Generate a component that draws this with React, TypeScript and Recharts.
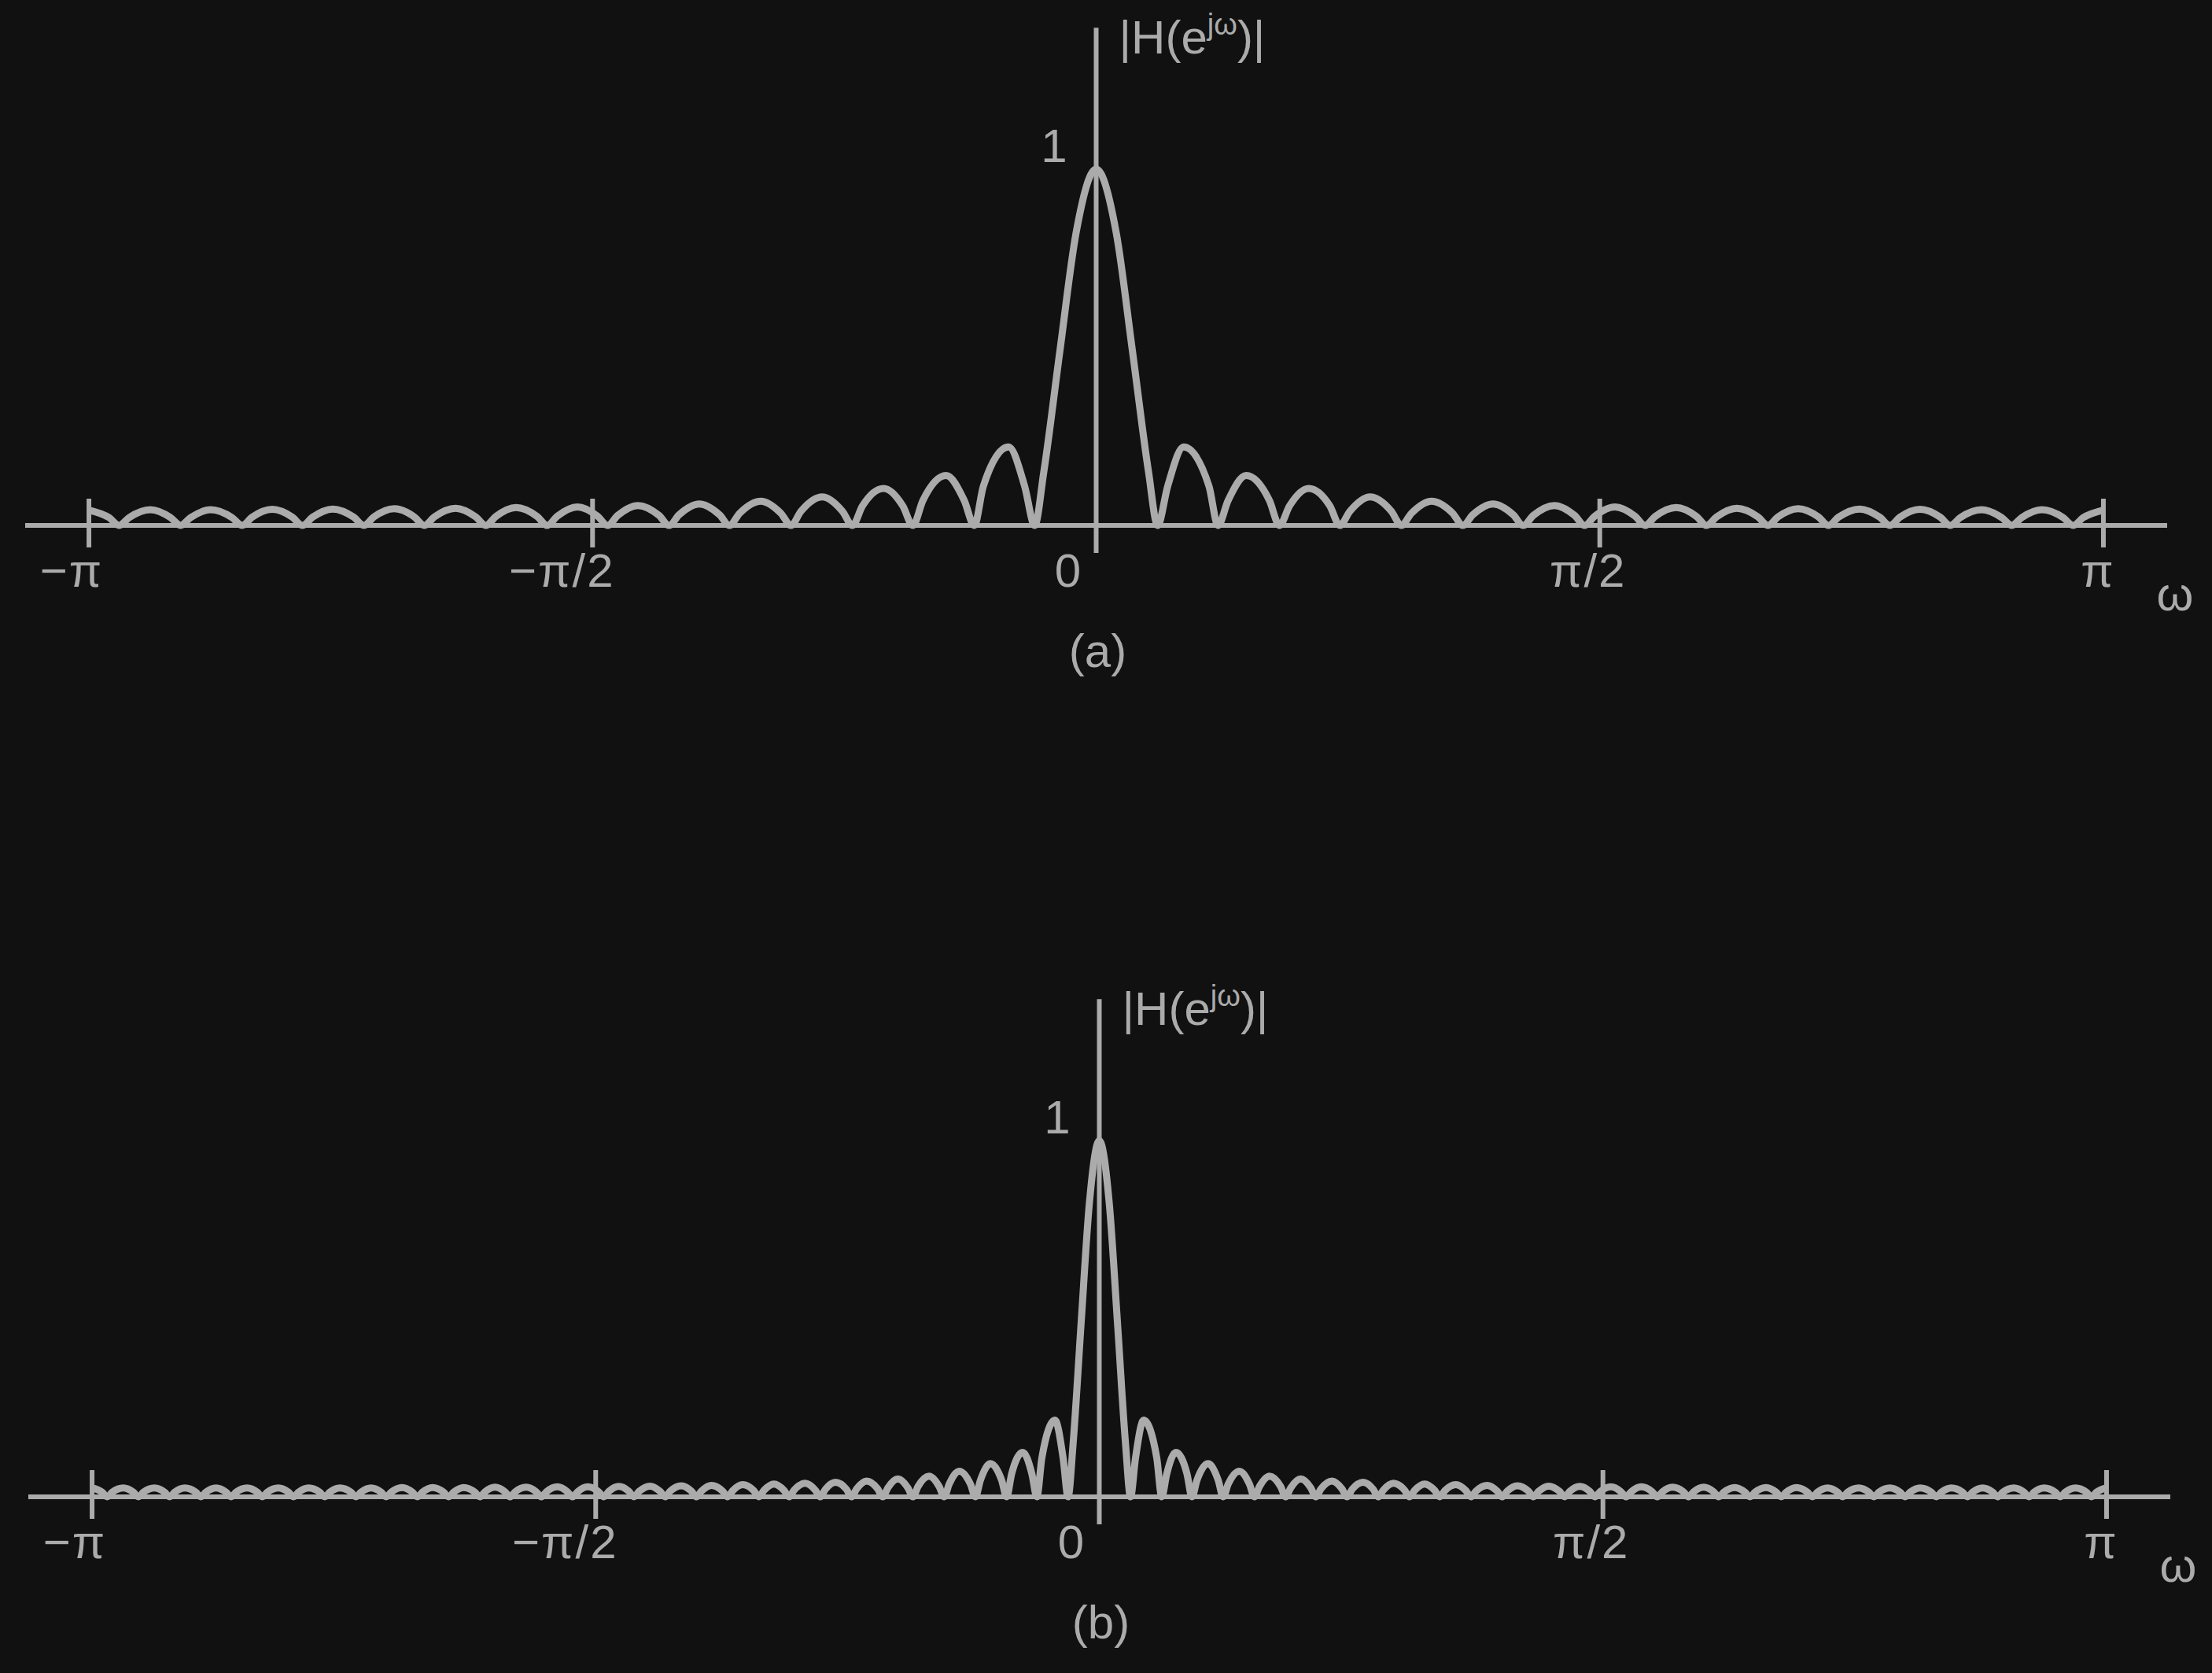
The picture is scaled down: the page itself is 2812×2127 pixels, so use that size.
import React from 'react';
import { LineChart, Line, XAxis, YAxis, ReferenceLine, ReferenceDot } from 'recharts';

// ---------- data (ω in units of π, magnitude |H|) ----------
const tickValues = [-1, -0.5, 0, 0.5, 1];
const tickLabels = ['−π', '−π/2', '0', 'π/2', 'π'];
const yTickLabel = '1';
const yTitleMain = '|H(e';
const yTitleSup = 'jω';
const yTitleEnd = ')|';
const xTitle = 'ω';

// panel (a): positive half (mirrored for ω < 0)
const mainAx = [0, 0.02, 0.036, 0.052];
const mainAh = [1, 0.82, 0.49, 0.15];
const zerosA = [0.061, 0.121, 0.182, 0.242, 0.303, 0.364, 0.424, 0.485, 0.545, 0.606, 0.667, 0.727, 0.788, 0.848, 0.909, 0.970];
const peakAx = [0.087, 0.149, 0.211, 0.272, 0.333, 0.394, 0.455, 0.515, 0.576, 0.636, 0.697, 0.758, 0.818, 0.879, 0.939, 1.0];
const peakAh = [0.22, 0.14, 0.104, 0.08, 0.068, 0.06, 0.056, 0.052, 0.05, 0.048, 0.047, 0.046, 0.045, 0.044, 0.044, 0.043];
const shoulderAx = [
  0.071, 0.112, 0.131, 0.172, 0.192, 0.232, 0.252, 0.293, 0.313, 0.354, 0.374, 0.414,
  0.434, 0.475, 0.495, 0.535, 0.555, 0.596, 0.616, 0.657, 0.677, 0.717, 0.737, 0.778,
  0.798, 0.838, 0.858, 0.899, 0.919, 0.960, 0.980,
];
const shoulderAh = [
  0.11, 0.11, 0.07, 0.07, 0.055, 0.055, 0.04, 0.04, 0.034, 0.034, 0.03, 0.03,
  0.028, 0.028, 0.026, 0.026, 0.025, 0.025, 0.024, 0.024, 0.024, 0.024, 0.023, 0.023,
  0.023, 0.023, 0.022, 0.022, 0.022, 0.022, 0.022,
];

// panel (b): positive half (mirrored for ω < 0)
const mainBx = [0, 0.01, 0.018, 0.026];
const mainBh = [1, 0.82, 0.49, 0.15];
const zerosB = [0.031, 0.062, 0.092, 0.123, 0.154, 0.185, 0.215, 0.246, 0.277, 0.308, 0.338, 0.369, 0.400, 0.431, 0.462, 0.492, 0.523, 0.554, 0.585, 0.615, 0.646, 0.677, 0.708, 0.738, 0.769, 0.800, 0.831, 0.862, 0.892, 0.923, 0.954, 0.985];
const peakBx = [0.044, 0.076, 0.108, 0.139, 0.169, 0.200, 0.231, 0.262, 0.292, 0.323, 0.354, 0.385, 0.415, 0.446, 0.477, 0.508, 0.538, 0.569, 0.600, 0.631, 0.662, 0.692, 0.723, 0.754, 0.785, 0.815, 0.846, 0.877, 0.908, 0.938, 0.969, 1.0];
const peakBh = [0.215, 0.125, 0.093, 0.072, 0.058, 0.05, 0.044, 0.041, 0.038, 0.036, 0.034, 0.032, 0.031, 0.03, 0.029, 0.028, 0.028, 0.027, 0.027, 0.026, 0.026, 0.026, 0.025, 0.025, 0.025, 0.025, 0.025, 0.025, 0.025, 0.025, 0.025, 0.025];
const shoulderBx = [
  0.036, 0.057, 0.067, 0.087, 0.097, 0.118, 0.128, 0.149, 0.159, 0.180, 0.190, 0.210,
  0.220, 0.241, 0.251, 0.272, 0.282, 0.303, 0.313, 0.333, 0.343, 0.364, 0.374, 0.395,
  0.405, 0.426, 0.436, 0.457, 0.467, 0.487, 0.497, 0.518, 0.528, 0.549, 0.559, 0.580,
  0.590, 0.610, 0.620, 0.641, 0.651, 0.672, 0.682, 0.703, 0.713, 0.733, 0.743, 0.764,
  0.774, 0.795, 0.805, 0.826, 0.836, 0.857, 0.867, 0.887, 0.897, 0.918, 0.928, 0.949,
  0.959, 0.980, 0.990,
];
const shoulderBh = [
  0.11, 0.11, 0.065, 0.065, 0.047, 0.047, 0.036, 0.036, 0.029, 0.029, 0.025, 0.025,
  0.022, 0.022, 0.021, 0.021, 0.019, 0.019, 0.018, 0.018, 0.017, 0.017, 0.016, 0.016,
  0.016, 0.016, 0.015, 0.015, 0.015, 0.015, 0.014, 0.014, 0.014, 0.014, 0.014, 0.014,
  0.014, 0.014, 0.013, 0.013, 0.013, 0.013, 0.013, 0.013, 0.013, 0.013, 0.013, 0.013,
  0.013, 0.013, 0.013, 0.013, 0.013, 0.013, 0.013, 0.013, 0.013, 0.013, 0.013, 0.013,
  0.013, 0.013, 0.013,
];

type Pt = { w: number; h: number };

function buildCurve(xs: number[][], hs: number[][]): Pt[] {
  const pos: Pt[] = [];
  xs.forEach((arr, k) => arr.forEach((x, i) => pos.push({ w: x, h: hs[k][i] })));
  pos.sort((a, b) => a.w - b.w);
  const neg = pos.filter((p) => p.w > 0).map((p) => ({ w: -p.w, h: p.h })).reverse();
  return [...neg, ...pos];
}

const curveA = buildCurve(
  [mainAx, zerosA, peakAx, shoulderAx],
  [mainAh, zerosA.map(() => 0), peakAh, shoulderAh]
);
const curveB = buildCurve(
  [mainBx, zerosB, peakBx, shoulderBx],
  [mainBh, zerosB.map(() => 0), peakBh, shoulderBh]
);

// ---------- styling ----------
const INK = '#ababab';
const BG = '#111111';
const FONT = '"Liberation Sans", Arial, Helvetica, sans-serif';
const FS = 60;
const tickDx = [-22, -39, -35, -15, -7];
const axisDomain: [number, number] = [-1.0633, 1.0633];

function XTick(props: any) {
  const { x, y, payload } = props;
  const i = tickValues.indexOf(payload.value);
  return (
    <g>
      {payload.value !== 0 && (
        <line x1={x} x2={x} y1={y - 34} y2={y + 28} stroke={INK} strokeWidth={6} />
      )}
      <text
        x={x + tickDx[i]}
        y={y + 78}
        textAnchor="middle"
        fill={INK}
        fontSize={FS}
        fontFamily={FONT}
        letterSpacing={2}
      >
        {tickLabels[i]}
      </text>
    </g>
  );
}

function center(vb: any) {
  return { cx: vb.x + (vb.width || 0) / 2, cy: vb.y + (vb.height || 0) / 2 };
}

function Panel({ data, tag }: { data: Pt[]; tag: string }) {
  return (
    <LineChart width={2800} height={892} data={data} margin={{ top: 215, right: 45, bottom: 124, left: 32 }}>
      <XAxis
        dataKey="w"
        type="number"
        domain={axisDomain}
        ticks={tickValues}
        interval={0}
        tickLine={false}
        tickSize={0}
        tickMargin={0}
        height={100}
        axisLine={{ stroke: INK, strokeWidth: 6 }}
        tick={(p: any) => <XTick {...p} />}
      />
      <YAxis type="number" domain={[0, 1]} hide />
      <ReferenceLine
        segment={[{ x: 0, y: -0.077 }, { x: 0, y: 1.397 }]}
        ifOverflow="visible"
        stroke={INK}
        strokeWidth={6}
      />
      <Line
        dataKey="h"
        type="monotone"
        dot={false}
        stroke={INK}
        strokeWidth={9}
        strokeLinejoin="round"
        isAnimationActive={false}
      />
      <ReferenceDot
        x={0}
        y={1}
        r={1}
        fill="none"
        stroke="none"
        ifOverflow="visible"
        label={(p: any) => {
          const { cx, cy } = center(p.viewBox);
          return (
            <text x={cx - 37} y={cy - 9} textAnchor="end" fill={INK} fontSize={FS} fontFamily={FONT}>
              {yTickLabel}
            </text>
          );
        }}
      />
      <ReferenceDot
        x={0}
        y={1.397}
        r={1}
        fill="none"
        stroke="none"
        ifOverflow="visible"
        label={(p: any) => {
          const { cx, cy } = center(p.viewBox);
          return (
            <text x={cx + 29} y={cy + 33} textAnchor="start" fill={INK} fontSize={FS} fontFamily={FONT}>
              {yTitleMain}
              <tspan dy={-24} fontSize={38}>{yTitleSup}</tspan>
              <tspan dy={24} fontSize={FS}>{yTitleEnd}</tspan>
            </text>
          );
        }}
      />
      <ReferenceDot
        x={axisDomain[1]}
        y={0}
        r={1}
        fill="none"
        stroke="none"
        ifOverflow="visible"
        label={(p: any) => {
          const { cx, cy } = center(p.viewBox);
          return (
            <text x={cx + 10} y={cy + 108} textAnchor="middle" fill={INK} fontSize={FS} fontFamily={FONT}>
              {xTitle}
            </text>
          );
        }}
      />
      <ReferenceDot
        x={0}
        y={0}
        r={1}
        fill="none"
        stroke="none"
        ifOverflow="visible"
        label={(p: any) => {
          const { cx, cy } = center(p.viewBox);
          return (
            <text x={cx + 2} y={cy + 180} textAnchor="middle" fill={INK} fontSize={FS} fontFamily={FONT}>
              {tag}
            </text>
          );
        }}
      />
    </LineChart>
  );
}

export default function App() {
  return (
    <div
      style={{
        position: 'absolute',
        left: 0,
        top: 0,
        width: 2812,
        height: 2127,
        background: BG,
        overflow: 'hidden',
      }}
    >
      <div style={{ position: 'absolute', left: 0, top: 0 }}>
        <Panel data={curveA} tag="(a)" />
      </div>
      <div style={{ position: 'absolute', left: 4, top: 1235 }}>
        <Panel data={curveB} tag="(b)" />
      </div>
    </div>
  );
}
